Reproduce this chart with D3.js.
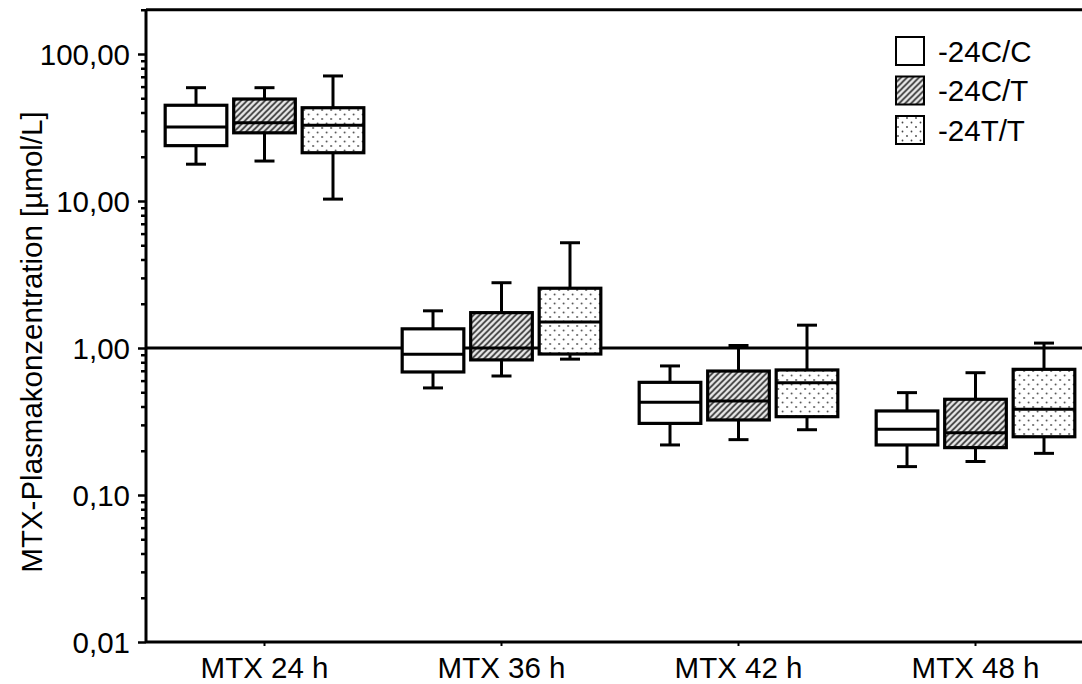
<!DOCTYPE html>
<html>
<head>
<meta charset="utf-8">
<script src="https://cdn.jsdelivr.net/npm/d3@7"></script>
<style>
	body { margin: 0; background: #fff; }
	text { font-family: "Liberation Sans", Arial, sans-serif; fill: #000; }
</style>
</head>
<body>
<svg></svg>
<script>
// categories
var groups = ["MTX 24 h", "MTX 36 h", "MTX 42 h", "MTX 48 h"];
var genotypes = ["-24C/C", "-24C/T", "-24T/T"];

// box plot statistics, [group][genotype]
var whiskerLow = [[17.8, 18.7, 10.3], [0.535, 0.645, 0.84], [0.219, 0.238, 0.278], [0.156, 0.169, 0.192]];
var quartile1  = [[23.8, 29.1, 21.3], [0.687, 0.83, 0.91], [0.307, 0.324, 0.341], [0.219, 0.210, 0.249]];
var medians    = [[31.9, 34.1, 32.7], [0.906, 1.0, 1.50], [0.427, 0.436, 0.581], [0.280, 0.265, 0.383]];
var quartile3  = [[44.8, 49.4, 43.1], [1.35, 1.74, 2.55], [0.584, 0.697, 0.709], [0.373, 0.448, 0.716]];
var whiskerHigh = [[59.0, 59.0, 70.9], [1.79, 2.78, 5.2], [0.755, 1.04, 1.43], [0.497, 0.679, 1.08]];

// y ticks
var yTicks = [0.01, 0.1, 1, 10, 100];
var yTickLabels = ["0,01", "0,10", "1,00", "10,00", "100,00"];
var refValue = 1;

function drawMe() {
	var W = 1082, H = 684;
	var left = 146, bottom = 642, decade = 147;
	var fontSize = "29.5px";

	var svg = d3.select("svg").attr("width", W).attr("height", H);

	var y = d3.scaleLog().domain([0.01, 200])
		.range([bottom, bottom - decade * Math.log10(200 / 0.01)]);
	var x0 = d3.scaleBand().domain(groups).range([left, left + 4 * 237]);
	var x1 = d3.scaleBand().domain(genotypes).range([0, x0.bandwidth()])
		.paddingInner(0.1).paddingOuter(0.28);

	// patterns
	var defs = svg.append("defs");
	var hatch = defs.append("pattern").attr("id", "hatch").attr("patternUnits", "userSpaceOnUse")
		.attr("width", 6).attr("height", 6);
	hatch.append("rect").attr("width", 6).attr("height", 6).attr("fill", "#e6e6e6");
	hatch.append("path").attr("d", "M-1,1 l2,-2 M0,6 l6,-6 M5,7 l2,-2")
		.attr("stroke", "#333").attr("stroke-width", 1.6);
	var dots = defs.append("pattern").attr("id", "dots").attr("patternUnits", "userSpaceOnUse")
		.attr("width", 9).attr("height", 9);
	dots.append("rect").attr("width", 9).attr("height", 9).attr("fill", "#fff");
	dots.append("circle").attr("cx", 2).attr("cy", 2).attr("r", 0.9).attr("fill", "#444");
	dots.append("circle").attr("cx", 6.5).attr("cy", 6.5).attr("r", 0.9).attr("fill", "#444");
	var fills = ["#fff", "url(#hatch)", "url(#dots)"];

	// frame top line
	svg.append("line").attr("x1", left).attr("x2", W).attr("y1", y(200)).attr("y2", y(200))
		.attr("stroke", "#000").attr("stroke-width", 3);

	// reference line at 1,00
	svg.append("line").attr("x1", left).attr("x2", W).attr("y1", y(refValue)).attr("y2", y(refValue))
		.attr("stroke", "#000").attr("stroke-width", 3);

	// minor ticks
	var minor = [];
	for (var e = -2; e <= 2; e++) for (var m = 2; m <= 9; m++) {
		var v = m * Math.pow(10, e);
		if (v <= 200) minor.push(v);
	}
	svg.append("g").attr("transform", "translate(" + left + ",0)")
		.call(d3.axisLeft(y).tickValues(minor).tickSize(5).tickFormat(""))
		.call(function(g) { g.select(".domain").remove(); })
		.selectAll("line").attr("stroke-width", 2.5);

	// y axis
	var yAxis = svg.append("g").attr("transform", "translate(" + left + ",0)")
		.call(d3.axisLeft(y).tickValues(yTicks).tickSize(8).tickPadding(8)
			.tickFormat(function(d, i) { return yTickLabels[i]; }));
	yAxis.select(".domain").attr("stroke-width", 3).attr("d", "M0," + y(200) + "V" + bottom);
	yAxis.selectAll(".tick line").attr("stroke-width", 2.5);
	yAxis.selectAll("text").style("font-size", fontSize).attr("dy", "0.36em");

	svg.append("text")
		.attr("transform", "translate(42," + 342 + ") rotate(-90)")
		.attr("text-anchor", "middle")
		.style("font-size", fontSize)
		.text("MTX-Plasmakonzentration [µmol/L]");

	// x axis
	var xAxis = svg.append("g").attr("transform", "translate(0," + bottom + ")")
		.call(d3.axisBottom(x0).tickSize(4).tickPadding(11));
	xAxis.select(".domain").attr("stroke-width", 3).attr("d", "M" + left + ",0H" + W);
	xAxis.selectAll(".tick line").attr("stroke-width", 2);
	xAxis.selectAll("text").style("font-size", fontSize);

	// boxes
	var cells = [];
	groups.forEach(function(g, gi) {
		genotypes.forEach(function(s, si) {
			cells.push({g: g, s: s, si: si, lo: whiskerLow[gi][si], q1: quartile1[gi][si],
				med: medians[gi][si], q3: quartile3[gi][si], hi: whiskerHigh[gi][si]});
		});
	});
	var bw = x1.bandwidth();
	var box = svg.selectAll(".box").data(cells).enter().append("g").attr("class", "box")
		.attr("transform", function(d) { return "translate(" + (x0(d.g) + x1(d.s)) + ",0)"; });

	box.append("line").attr("x1", bw / 2).attr("x2", bw / 2)
		.attr("y1", function(d) { return y(d.hi); }).attr("y2", function(d) { return y(d.q3); })
		.attr("stroke", "#000").attr("stroke-width", 3);
	box.append("line").attr("x1", bw / 2).attr("x2", bw / 2)
		.attr("y1", function(d) { return y(d.q1); }).attr("y2", function(d) { return y(d.lo); })
		.attr("stroke", "#000").attr("stroke-width", 3);
	box.append("line").attr("x1", bw / 2 - 10).attr("x2", bw / 2 + 10)
		.attr("y1", function(d) { return y(d.hi); }).attr("y2", function(d) { return y(d.hi); })
		.attr("stroke", "#000").attr("stroke-width", 3);
	box.append("line").attr("x1", bw / 2 - 10).attr("x2", bw / 2 + 10)
		.attr("y1", function(d) { return y(d.lo); }).attr("y2", function(d) { return y(d.lo); })
		.attr("stroke", "#000").attr("stroke-width", 3);
	box.append("rect").attr("x", 0).attr("width", bw)
		.attr("y", function(d) { return y(d.q3); })
		.attr("height", function(d) { return y(d.q1) - y(d.q3); })
		.attr("fill", function(d) { return fills[d.si]; })
		.attr("stroke", "#000").attr("stroke-width", 3.2);
	box.append("line").attr("x1", 0).attr("x2", bw)
		.attr("y1", function(d) { return y(d.med); }).attr("y2", function(d) { return y(d.med); })
		.attr("stroke", "#000").attr("stroke-width", 3);

	// legend
	var legend = svg.selectAll(".legend").data(genotypes).enter().append("g").attr("class", "legend")
		.attr("transform", function(d, i) { return "translate(896," + (37 + i * 39.5) + ")"; });
	legend.append("rect").attr("width", 28).attr("height", 28)
		.attr("fill", function(d, i) { return fills[i]; })
		.attr("stroke", "#000").attr("stroke-width", 2);
	legend.append("text").attr("x", 42).attr("y", 14).attr("dy", "0.36em")
		.style("font-size", fontSize).text(function(d) { return d; });
}

drawMe();
</script>
</body>
</html>
